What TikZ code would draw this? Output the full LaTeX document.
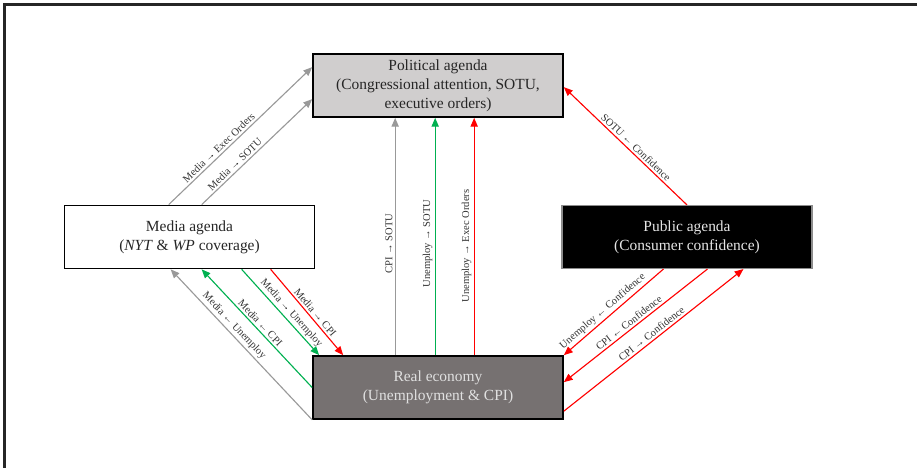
\documentclass[tikz,border=0pt]{standalone}
\usepackage{fontspec}
\setmainfont{Liberation Serif}
\usetikzlibrary{arrows.meta}

\definecolor{polfill}{HTML}{D0CECE}
\definecolor{econfill}{HTML}{767171}
\definecolor{arrgrey}{HTML}{999999}
\definecolor{arrgreen}{HTML}{00B050}
\definecolor{arrred}{HTML}{FF0000}

\begin{document}
\begin{tikzpicture}[x=1cm,y=1cm]
\tikzset{
  agenda/.style={rectangle,draw,line width=1.2pt,minimum width=6.25cm,minimum height=1.575cm,align=center,inner sep=2pt,font=\fontsize{11}{13.5}\selectfont},
  flow/.style={-{Triangle[length=2.2mm,width=1.8mm]},line width=0.8pt},
  greyflow/.style={flow,arrgrey},
  greenflow/.style={flow,arrgreen},
  redflow/.style={flow,arrred},
  edgelabel/.style={sloped,above,inner sep=1.5pt,text=black!80,font=\fontsize{7.5}{9}\selectfont}
}
\useasboundingbox (0,0) rectangle (22.925,11.7);
% frame
\draw[line width=1.7pt,black!85] (0.1125,0) -- (0.1125,11.5875) -- (22.925,11.5875);

\node[agenda,fill=polfill,text=black!85] (n_pol) at (10.95,9.5625) {Political agenda\\(Congressional attention, SOTU,\\executive orders)};
\node[agenda,fill=white,text=black!85] (n_media) at (4.7375,5.775) {Media agenda\\(\textit{NYT} \& \textit{WP} coverage)};
\node[agenda,fill=black,draw=black!45,line width=0.8pt,text=black!10] (n_pub) at (17.175,5.775) {Public agenda\\(Consumer confidence)};
\node[agenda,fill=econfill,text=black!12] (n_econ) at (10.95,2.0125) {Real economy\\(Unemployment \& CPI)};

% media -> political
\draw[greyflow] ([xshift=2.625cm]n_media.north west) -- ([yshift=-0.35cm]n_pol.north west) node[edgelabel,pos=0.38] {Media → Exec Orders};
\draw[greyflow] ([xshift=3.45cm]n_media.north west) -- ([yshift=-1.15cm]n_pol.north west) node[edgelabel,pos=0.34] {Media → SOTU};

% economy -> political
\draw[greyflow] ([xshift=2.075cm]n_econ.north west) -- ([xshift=2.075cm]n_pol.south west) node[edgelabel,pos=0.47] {CPI → SOTU};
\draw[greenflow] ([xshift=3.075cm]n_econ.north west) -- ([xshift=3.075cm]n_pol.south west) node[edgelabel,pos=0.47] {Unemploy → SOTU};
\draw[redflow] ([xshift=4.05cm]n_econ.north west) -- ([xshift=4.05cm]n_pol.south west) node[edgelabel,pos=0.46] {Unemploy → Exec Orders};

% public -> political
\draw[redflow] (n_pub.north) -- ([yshift=-0.85cm]n_pol.north east) node[edgelabel,pos=0.45] {SOTU ← Confidence};

% media <-> economy
\draw[greyflow] (n_econ.south west) -- ([xshift=2.675cm]n_media.south west) node[edgelabel,pos=0.59] {Media ← Unemploy};
\draw[greenflow] (n_econ.west) -- ([xshift=3.45cm]n_media.south west) node[edgelabel,pos=0.51] {Media ← CPI};
\draw[greenflow] ([xshift=4.45cm]n_media.south west) -- ([xshift=0.175cm]n_econ.north west) node[edgelabel,pos=0.57] {Media → Unemploy};
\draw[redflow] ([xshift=5.175cm]n_media.south west) -- ([xshift=0.775cm]n_econ.north west) node[edgelabel,pos=0.55] {Media → CPI};

% public <-> economy
\draw[redflow] ([xshift=2.55cm]n_pub.south west) -- (n_econ.north east) node[edgelabel,pos=0.56] {Unemploy ← Confidence};
\draw[redflow] ([xshift=3.65cm]n_pub.south west) -- ([yshift=-0.675cm]n_econ.north east) node[edgelabel,pos=0.52] {CPI ← Confidence};
\draw[redflow] ([yshift=-1.4cm]n_econ.north east) -- ([xshift=4.55cm]n_pub.south west) node[edgelabel,pos=0.51] {CPI → Confidence};
\end{tikzpicture}
\end{document}
